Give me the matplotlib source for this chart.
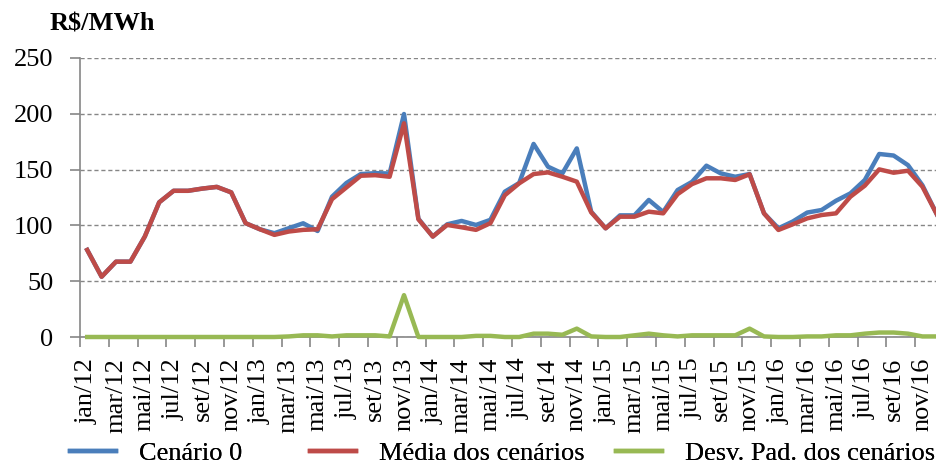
import numpy as np
import matplotlib
matplotlib.use("Agg")
import matplotlib.pyplot as plt

# monthly series jan/12 .. dez/16
meses = ["jan", "fev", "mar", "abr", "mai", "jun",
         "jul", "ago", "set", "out", "nov", "dez"]
anos = ["12", "13", "14", "15", "16"]
rotulos = [m + "/" + a for a in anos for m in meses]

cenario0 = [78, 54, 67.5, 67.5, 90, 120.7, 131, 131, 133, 134.5, 129.6, 102,
            96.5, 93, 97.5, 101.9, 95, 125.7, 138, 146, 146.8, 146.5, 199.8, 106,
            90, 101, 104, 100.4, 105, 130.2, 138, 173, 152.6, 146.6, 169, 112.3,
            97.4, 109, 109, 122.8, 112, 131.7, 139, 153.5, 146.6, 143.6, 146, 110.8,
            97.4, 103.5, 111.5, 113.8, 122.1, 128.7, 140.7, 164, 162.6, 154, 136, 110]

media = [78, 54, 67.5, 67.5, 90, 120.7, 131, 131, 133, 134.5, 129.6, 102,
         96.5, 91.5, 94.5, 96, 96.5, 123.5, 134, 144.5, 145, 143.6, 191.5, 105.5,
         90, 100.4, 98.3, 96, 102, 127, 137.7, 146, 147.5, 143.6, 139.2, 111.7,
         97.4, 107.8, 107.8, 112.3, 110.8, 128, 137, 142.2, 142.2, 140.7, 145.8, 110.8,
         95.9, 101, 106.3, 109.3, 110.8, 125.7, 135.6, 150.2, 147.2, 149, 134.7, 110]

desvpad = [0, 0, 0, 0, 0, 0, 0, 0, 0, 0, 0, 0,
           0, 0, 0.5, 1.5, 1.5, 0.5, 1.5, 1.5, 1.5, 0.5, 37.5, 0,
           0, 0, 0, 1, 1, 0, 0, 3, 3, 2, 7.5, 0.5,
           0, 0, 1.5, 3, 1.5, 0.5, 1.5, 1.5, 1.5, 1.5, 7.5, 0.5,
           0, 0, 0.5, 0.5, 1.5, 1.5, 3, 4, 4, 3, 0.5, 0.5]

AZUL = "#4A7EBB"
VERMELHO = "#BE4B48"
VERDE = "#98B954"
CINZA = "#868686"

plt.rcParams["font.family"] = ["Liberation Serif", "DejaVu Serif"]
FS = 19

fig = plt.figure(figsize=(9.36, 4.67), dpi=100)
# plot area runs slightly past the right edge of the figure
ax = fig.add_axes([80 / 936, 1 - 337 / 467, 864 / 936, (337 - 58) / 467])

x = np.arange(len(rotulos))
l1, = ax.plot(x, cenario0, color=AZUL, lw=3.2, solid_joinstyle="round")
l2, = ax.plot(x, media, color=VERMELHO, lw=3.2, solid_joinstyle="round")
l3, = ax.plot(x, desvpad, color=VERDE, lw=3.2, solid_joinstyle="round",
              clip_on=False, zorder=5)

ax.set_xlim(-0.5, len(rotulos) - 0.5)
ax.set_ylim(0, 250)
ax.set_yticks(np.arange(0, 251, 50))
ax.yaxis.grid(True, linestyle=(0, (3, 2)), color=CINZA, lw=1)
ax.set_axisbelow(True)

# labels every other month, ticks between categories
ax.set_xticks(x[::2])
ax.set_xticklabels(rotulos[::2], rotation=90, fontsize=FS)
ax.set_xticks(np.arange(-0.5, len(rotulos), 2), minor=True)
ax.tick_params(axis="x", which="major", length=0, pad=15)
ax.tick_params(axis="x", which="minor", length=7, color=CINZA, width=1.2)
ax.tick_params(axis="y", length=7, color=CINZA, width=1.2, labelsize=FS, pad=12)

for s in ["top", "right"]:
    ax.spines[s].set_visible(False)
for s in ["left", "bottom"]:
    ax.spines[s].set_color(CINZA)
    ax.spines[s].set_linewidth(1.2)

fig.text(50 / 936, 1 - 24 / 467, "R$/MWh", fontsize=FS, fontweight="bold", va="center")

# legend entries placed one by one along the bottom
entradas = [(l1, "Cenário 0", 70), (l2, "Média dos cenários", 310),
            (l3, "Desv. Pad. dos cenários", 616)]
for linha, texto, px in entradas:
    leg = fig.legend([linha], [texto], loc="center left",
                     bbox_to_anchor=(px / 936, 1 - 453 / 467),
                     frameon=False, fontsize=FS, borderpad=0, borderaxespad=0,
                     handlelength=1.75, handletextpad=0.85)
    fig.add_artist(leg)

fig.savefig("out.png", dpi=100)
